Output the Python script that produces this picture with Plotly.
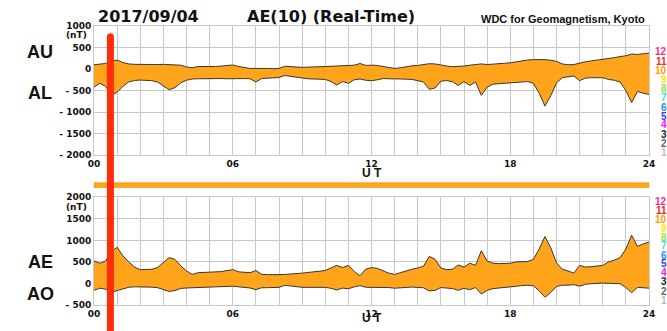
import plotly.graph_objects as go

# Time axis (UT hours), 15-minute samples
hours = [i / 4 for i in range(97)]

AU = [100, 110, 130, 180, 210, 150, 120, 110, 105, 105, 100, 105, 110, 105, 100, 90,
      50, 30, 60, 55, 55, 60, 70, 80, 95, 60, 30, 15, 15, 20, 15, 10,
      15, 65, 55, 45, 40, 45, 55, 55, 60, 65, 70, 75, 85, 90, 130, 85,
      90, 85, 60, 35, 15, 30, 55, 75, 85, 100, 125, 120, 90, 70, 55, 60,
      70, 90, 110, 120, 105, 110, 120, 135, 145, 170, 195, 210, 220, 225, 220, 205,
      180, 120, 100, 105, 145, 170, 190, 205, 220, 245, 265, 290, 310, 350, 340, 355,
      370]

AL = [-420, -330, -400, -600, -540, -400, -300, -265, -255, -260, -270, -300, -400, -480, -430, -320,
      -260, -230, -225, -220, -220, -215, -220, -225, -220, -215, -220, -225, -300, -220, -210, -200,
      -195, -150, -170, -200, -220, -225, -230, -240, -240, -290, -370, -290, -330, -250, -230, -260,
      -270, -250, -220, -225, -235, -230, -235, -240, -270, -300, -470, -440, -280, -270, -290, -380,
      -290, -380, -300, -610, -420, -350, -340, -330, -310, -300, -295, -290, -330, -560, -860, -620,
      -320, -200, -180, -160, -270, -210, -200, -195, -200, -240, -260, -300, -500, -780, -520, -560,
      -590]

AE = [520, 470, 520, 740, 840, 640, 500, 380, 320, 320, 330, 370, 480, 600, 560, 410,
      290, 210, 250, 255, 260, 270, 275, 300, 320, 270, 260, 250, 300, 210, 205, 200,
      205, 210, 215, 230, 240, 255, 265, 280, 300, 360, 420, 370, 420, 280, 180, 330,
      370, 350, 290, 240, 210, 250, 300, 330, 360, 400, 630, 560, 360, 320, 330, 430,
      380, 470, 420, 760, 520, 470, 460, 470, 470, 500, 500, 510, 560, 800, 1090, 830,
      480, 330, 290, 240, 420, 380, 390, 400, 420, 500, 540, 600, 800, 1120, 860, 920,
      960]

AO = [-160, -110, -135, -210, -165, -125, -90, -78, -75, -78, -85, -98, -145, -185, -165, -115,
      -105, -100, -83, -83, -83, -78, -75, -73, -63, -78, -95, -105, -143, -100, -98, -95,
      -90, -43, -58, -78, -90, -90, -88, -93, -90, -113, -150, -108, -123, -80, -50, -88,
      -90, -83, -80, -95, -110, -100, -90, -83, -93, -100, -172, -160, -95, -100, -118, -160,
      -110, -145, -95, -245, -158, -120, -110, -98, -83, -65, -50, -40, -55, -168, -320, -208,
      -70, -40, -40, -28, -63, -20, -5, 5, 10, 3, 3, -5, -95, -215, -90, -103,
      -110]

top_ticks = [-2000, -1500, -1000, -500, 0, 500, 1000]
top_ticktext = ["- 2000", "- 1500", "- 1000", "- 500", "0", "500", "1000"]
bot_ticks = [-500, 0, 500, 1000, 1500, 2000]
bot_ticktext = ["- 500", "0", "500", "1000", "1500", "2000"]

count_labels = ["12", "11", "10", "9", "8", "7", "6", "5", "4", "3", "2", "1"]
count_colors = ["#ff2a80", "#ff1e1e", "#ff9a00", "#ffe600", "#9ce23a", "#35e0d2",
                "#2a8cff", "#3636ff", "#ff10ff", "#222222", "#666666", "#bbbbbb"]

red_marker_hour = 0.71

FILL = "#ffa41b"
EDGE = "#3c3630"
GRID = "#c8c8c8"
FONT = "Liberation Sans"
WIDE = "DejaVu Sans"

fig = go.Figure()
fig.add_trace(go.Scatter(x=hours, y=AL, mode="lines", line=dict(color=EDGE, width=1),
                         xaxis="x", yaxis="y", showlegend=False, hoverinfo="skip"))
fig.add_trace(go.Scatter(x=hours, y=AU, mode="lines", line=dict(color=EDGE, width=1),
                         fill="tonexty", fillcolor=FILL,
                         xaxis="x", yaxis="y", showlegend=False, hoverinfo="skip"))
fig.add_trace(go.Scatter(x=hours, y=AO, mode="lines", line=dict(color=EDGE, width=1),
                         xaxis="x2", yaxis="y2", showlegend=False, hoverinfo="skip"))
fig.add_trace(go.Scatter(x=hours, y=AE, mode="lines", line=dict(color=EDGE, width=1),
                         fill="tonexty", fillcolor=FILL,
                         xaxis="x2", yaxis="y2", showlegend=False, hoverinfo="skip"))

# plot area at x 94..649, y 26..311 of the 667x331 window
H = 285.0  # paper height in px
def py(px):
    return (311 - px) / H

def px_x(px):
    return (px - 94) / 555.0

xcommon = dict(range=[0, 24], tick0=0, dtick=6, tickformat="02d", showgrid=True,
               gridcolor=GRID, gridwidth=1, zeroline=False, showline=True,
               linecolor=GRID, mirror=True, ticks="",
               minor=dict(dtick=1, tick0=0, showgrid=True, gridcolor=GRID, gridwidth=1),
               tickfont=dict(family=WIDE, size=9, color="#111", weight="bold"))
ycommon = dict(showgrid=True, gridcolor=GRID, gridwidth=1, zeroline=False,
               showline=True, linecolor=GRID, mirror=True, ticks="",
               tickfont=dict(family=WIDE, size=9, color="#111", weight="bold"))

fig.update_layout(
    width=667, height=331,
    margin=dict(l=94, r=18, t=26, b=20),
    paper_bgcolor="white", plot_bgcolor="white",
    xaxis=dict(domain=[0, 1], anchor="y", **xcommon),
    yaxis=dict(domain=[py(158), 1], anchor="x", range=[-2000, 1000],
               tickvals=top_ticks, ticktext=top_ticktext, **ycommon),
    xaxis2=dict(domain=[0, 1], anchor="y2", **xcommon),
    yaxis2=dict(domain=[0, py(201)], anchor="x2", range=[-500, 2000],
                tickvals=bot_ticks, ticktext=bot_ticktext, **ycommon),
)

shapes = [
    dict(type="rect", xref="paper", yref="paper", x0=0, x1=1, y0=py(191), y1=py(186),
         fillcolor=FILL, line=dict(color="#e08a00", width=0.5), layer="above"),
    dict(type="line", xref="x", yref="paper", x0=red_marker_hour, x1=red_marker_hour,
         y0=py(340), y1=py(37), line=dict(color="#ff2d0a", width=7), layer="above"),
    dict(type="circle", xref="x", yref="paper", xsizemode="pixel", ysizemode="pixel",
         xanchor=red_marker_hour, yanchor=py(37), x0=-3.5, x1=3.5, y0=-3.5, y1=3.5,
         fillcolor="#ff2d0a", line=dict(width=0), layer="above"),
]
fig.update_layout(shapes=shapes)

ann = []
def add(text, x, y, size, xanchor="center", color="#111", family=FONT):
    ann.append(dict(text="<b>%s</b>" % text, x=x, y=y,
                    xref="paper", yref="paper", xanchor=xanchor, yanchor="middle",
                    showarrow=False, font=dict(family=family, size=size, color=color)))

add("2017/09/04", px_x(96), py(16), 16, "left", family=WIDE)
add("AE(10) (Real-Time)", px_x(245), py(16), 16, "left", family=WIDE)
add("WDC for Geomagnetism, Kyoto", px_x(647), py(19), 11, "right")
add("AU", px_x(40), py(53), 18)
add("AL", px_x(40), py(94), 18)
add("AE", px_x(40), py(267), 18)
add("AO", px_x(40), py(300), 18)
add("(nT)", px_x(89), py(35), 9, "right", family=WIDE)
add("(nT)", px_x(89), py(211), 9, "right", family=WIDE)
add("U T", 0.5, py(176), 12)
add("U T", 0.5, py(324), 12)

top_y = [52, 62, 71, 81, 90, 99, 109, 118, 127, 136.5, 146, 155]
bot_y = [205, 214, 223.3, 232.7, 241.7, 250.7, 260, 269, 278, 287, 296.7, 306.5]
for lab, col, ty, by in zip(count_labels, count_colors, top_y, bot_y):
    add(lab, px_x(668.5), py(ty), 10, "right", col)
    add(lab, px_x(668.5), py(by), 10, "right", col)

fig.update_layout(annotations=ann)
fig.write_html("out.html",
               config={"displayModeBar": False},
               post_script="document.body.style.margin='0';document.body.style.overflow='hidden';")
